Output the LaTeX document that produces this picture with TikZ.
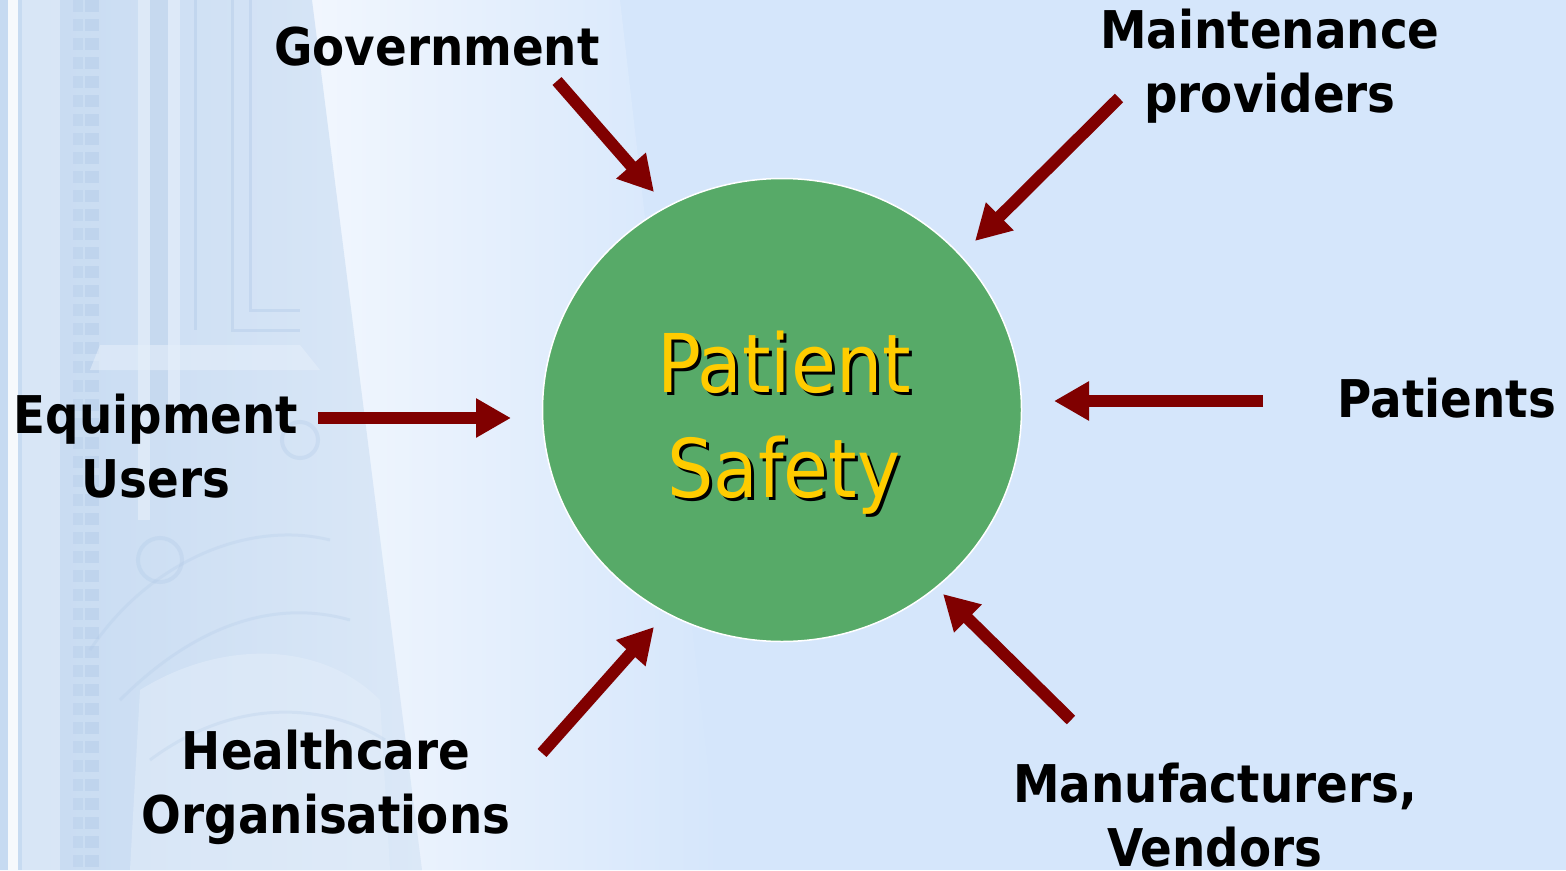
\documentclass[tikz,border=0pt]{standalone}
\usepackage{fontspec}
\setmainfont{DejaVu Sans Condensed}
\usetikzlibrary{arrows.meta,shapes.geometric}
\definecolor{sky}{HTML}{D5E6FB}
\definecolor{glow}{HTML}{F2F7FE}
\definecolor{stone}{HTML}{C6DAF1}
\definecolor{stonedark}{HTML}{AFC8E6}
\definecolor{stonelight}{HTML}{E4EEFA}
\definecolor{hubgreen}{HTML}{57AA68}
\definecolor{titleyellow}{HTML}{FFCC00}
\definecolor{arrowred}{HTML}{800000}
\tikzset{
  label/.style={font=\bfseries\fontsize{52}{64}\selectfont, align=center, inner sep=0pt, text=black},
  feed/.style={draw=arrowred, line width=12pt, line cap=butt,
    -{Triangle[length=35pt,width=37pt]}},
  titletext/.style={font=\fontsize{81}{105}\selectfont, align=center, inner sep=0pt},
}
\begin{document}
\begin{tikzpicture}[x=1pt,y=-1pt]
\useasboundingbox (0,0) rectangle (1566,870);
% backdrop
\fill[sky] (0,0) rectangle (1566,870);
% bright haze beside the column
\shade[left color=glow, right color=sky] (300,0) -- (620,0) -- (720,870) -- (410,870) -- cycle;
% the column
\shade[left color=stone, right color=stonelight!70!stone] (0,0) -- (312,0) -- (422,870) -- (0,870) -- cycle;
\fill[white, opacity=0.85] (8,0) rectangle (18,870);
\fill[stonelight, opacity=0.6] (22,0) rectangle (60,870);
\draw[stonedark, line width=14pt, dash pattern=on 12pt off 7pt, opacity=0.4] (92,0) -- (92,870);
\draw[stonedark, line width=10pt, dash pattern=on 12pt off 7pt, opacity=0.3] (78,0) -- (78,870);
\fill[stonelight, opacity=0.7] (138,0) rectangle (150,520);
\fill[stonelight, opacity=0.7] (168,0) rectangle (180,430);
\fill[stonedark, opacity=0.25] (150,0) rectangle (168,430);
\draw[stonedark, line width=3pt, opacity=0.4] (195,0) -- (195,330);
\draw[stonedark, line width=3pt, opacity=0.4] (232,0) -- (232,330) -- (300,330);
\draw[stonedark, line width=3pt, opacity=0.4] (250,0) -- (250,310) -- (300,310);
% capital with volutes
\fill[stonelight, opacity=0.6] (100,345) -- (300,345) -- (320,370) -- (90,370) -- cycle;
\draw[stonedark, line width=4pt, opacity=0.3] (160,560) circle (22pt);
\draw[stonedark, line width=4pt, opacity=0.3] (300,440) circle (18pt);
\draw[stonedark, line width=3pt, opacity=0.25] (90,650) .. controls (150,560) and (250,520) .. (330,540);
\draw[stonedark, line width=3pt, opacity=0.25] (120,700) .. controls (200,620) and (280,600) .. (350,620);
\fill[stonelight, opacity=0.5] (140,690) .. controls (220,640) and (320,640) .. (380,700) -- (390,870) -- (130,870) -- cycle;
\draw[stonedark, line width=3pt, opacity=0.25] (150,760) .. controls (230,700) and (320,700) .. (385,740);

% hub
\node[ellipse, draw=white, line width=1.5pt, fill=hubgreen, minimum width=479pt, minimum height=463pt, inner sep=0pt] (hub) at (782,410) {};
\node[titletext, text=black] (titleshade) at (787,426) {Patient\\Safety};
\node[titletext, text=titleyellow] (title) at (784,423) {Patient\\Safety};

% stakeholders
\node[label, anchor=base] (gov) at (437,65) {Government};
\node[label] (maint) at (1270,66) {Maintenance\\providers};
\node[label] (users) at (156,446) {Equipment\\Users};
\node[label, anchor=base] (patients) at (1447,417) {Patients};
\node[label] (health) at (326,787) {Healthcare\\Organisations};
\node[label] (makers) at (1215,815) {Manufacturers,\\Vendors};

% arrow ends
\coordinate (govS) at (557,81);   \coordinate (govT) at (654,192);
\coordinate (maintS) at (1119,98); \coordinate (maintT) at (975,241);
\coordinate (usersS) at (318,418); \coordinate (usersT) at (511,418);
\coordinate (patS) at (1263,401);  \coordinate (patT) at (1054,401);
\coordinate (healthS) at (542,753); \coordinate (healthT) at (654,627);
\coordinate (makersS) at (1071,720); \coordinate (makersT) at (943,594);

\draw[feed] (govS) -- (govT);
\draw[feed] (maintS) -- (maintT);
\draw[feed] (usersS) -- (usersT);
\draw[feed] (patS) -- (patT);
\draw[feed] (healthS) -- (healthT);
\draw[feed] (makersS) -- (makersT);
\end{tikzpicture}
\end{document}
